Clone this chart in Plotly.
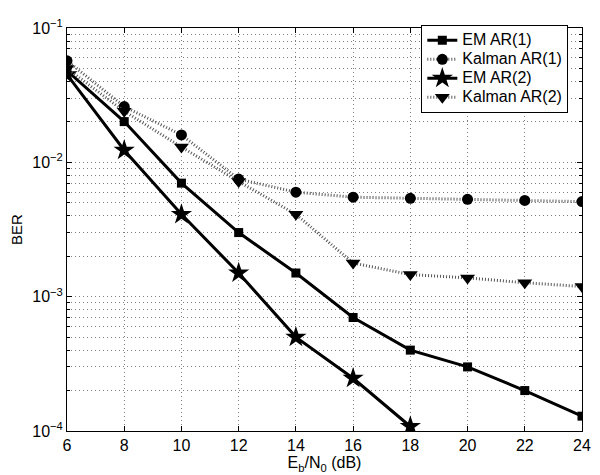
import plotly.graph_objects as go

snr = [6, 8, 10, 12, 14, 16, 18, 20, 22, 24]
snr_em2 = [6, 8, 10, 12, 14, 16, 18]

em_ar1 = [0.048, 0.0201, 0.0070, 0.0030, 0.00150, 0.00070, 0.00040, 0.00030, 0.00020, 0.000129]
kal_ar1 = [0.057, 0.026, 0.016, 0.0075, 0.0060, 0.0055, 0.0054, 0.0053, 0.0052, 0.0051]
em_ar2 = [0.045, 0.0123, 0.0041, 0.0015, 0.00050, 0.000247, 0.000108]
kal_ar2 = [0.050, 0.024, 0.013, 0.0072, 0.0041, 0.00178, 0.00146, 0.00138, 0.00127, 0.00119]

names = ["EM AR(1)", "Kalman AR(1)", "EM AR(2)", "Kalman AR(2)"]

y_tickvals = [1e-4, 1e-3, 1e-2, 1e-1]
y_ticktext = ["10<sup>−4</sup>", "10<sup>−3</sup>", "10<sup>−2</sup>", "10<sup>−1</sup>"]
x_tickvals = [6, 8, 10, 12, 14, 16, 18, 20, 22, 24]

minor_vals = [m * 10 ** e for e in (-4, -3, -2) for m in range(2, 10)]

GRID_DASH = "1px,3px"
GRID_COLOR = "#808080"


def legend_name(s):
    return '<span style="font-size:16px">' + s + "</span>"


fig = go.Figure()
fig.add_trace(go.Scatter(x=snr, y=em_ar1, name=legend_name(names[0]), mode="lines+markers",
                         line=dict(color="black", width=3),
                         marker=dict(symbol="square", size=9, color="black")))
fig.add_trace(go.Scatter(x=snr, y=kal_ar1, name=legend_name(names[1]), mode="lines+markers",
                         line=dict(color="#555", width=3, dash="1px,2px"),
                         marker=dict(symbol="circle", size=11, color="black")))
fig.add_trace(go.Scatter(x=snr_em2, y=em_ar2, name=legend_name(names[2]), mode="lines+markers",
                         line=dict(color="black", width=3),
                         marker=dict(symbol="star", size=16, color="black")))
fig.add_trace(go.Scatter(x=snr, y=kal_ar2, name=legend_name(names[3]), mode="lines+markers",
                         line=dict(color="#555", width=3, dash="1px,2px"),
                         marker=dict(symbol="triangle-down", size=13, color="black")))

font = dict(family="Liberation Sans, Arial, Helvetica, sans-serif", size=16, color="black")

# the page body adds an 8px offset; figure size and margins compensate for it
fig.update_layout(
    width=592, height=467,
    margin=dict(l=57, r=9, t=11, b=42),
    paper_bgcolor="white", plot_bgcolor="white",
    font=font,
    showlegend=True,
    legend=dict(x=0.688, y=1.008, xanchor="left", yanchor="top",
                bgcolor="white", bordercolor="black", borderwidth=1,
                font=dict(size=12), tracegroupgap=0, itemwidth=30),
)
fig.update_xaxes(
    range=[6, 24], tickvals=x_tickvals, ticktext=[str(v) for v in x_tickvals],
    showline=True, linecolor="black", linewidth=1, mirror="ticks",
    ticks="inside", ticklen=5, tickcolor="black",
    showgrid=True, gridcolor=GRID_COLOR, griddash=GRID_DASH, gridwidth=1,
    zeroline=False, ticklabeloverflow="allow",
    title=dict(text="E<sub>b</sub>/N<sub>0</sub> (dB)", standoff=1, font=dict(size=16)),
)
fig.update_yaxes(
    type="log", range=[-4, -1],
    tickvals=y_tickvals, ticktext=y_ticktext,
    showline=True, linecolor="black", linewidth=1, mirror="ticks",
    ticks="inside", ticklen=5, tickcolor="black",
    showgrid=True, gridcolor=GRID_COLOR, griddash=GRID_DASH, gridwidth=1,
    minor=dict(tickmode="array", tickvals=minor_vals, ticks="inside", ticklen=3,
               tickcolor="black", showgrid=True, gridcolor=GRID_COLOR,
               griddash=GRID_DASH, gridwidth=1),
    zeroline=False, ticklabeloverflow="allow",
    title=dict(text="BER", standoff=5, font=dict(size=15)),
)

fig.write_html("out.html")
